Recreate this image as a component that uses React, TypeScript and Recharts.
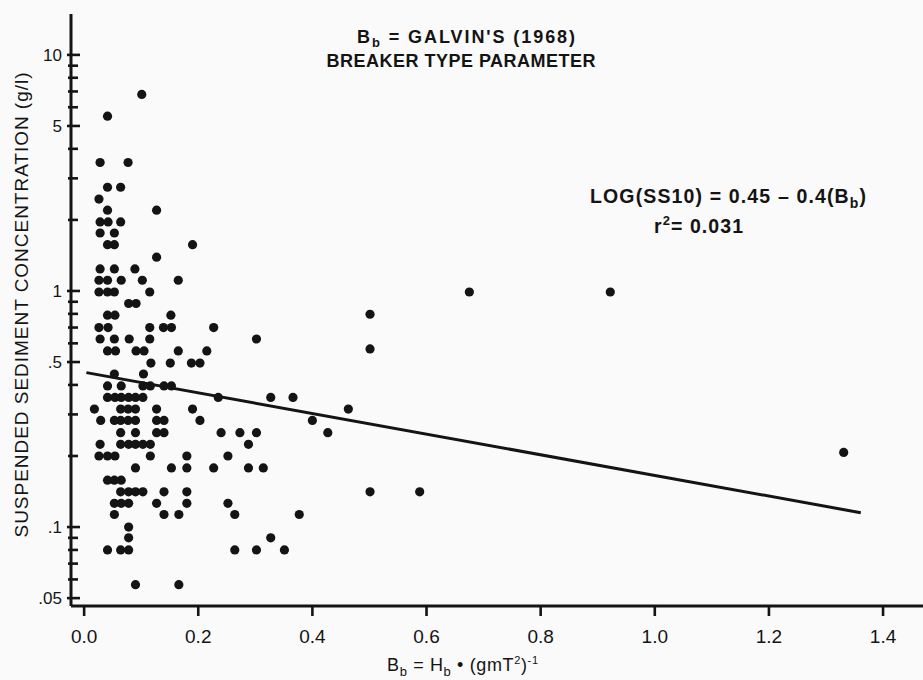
import { ScatterChart, Scatter, XAxis, YAxis } from "recharts";

const INK = "#141414";
const FONT = "'Liberation Sans', Arial, sans-serif";

// concentration levels (g/l), one row of dots per level
const levels = [
  6.8, 5.5, 3.5, 2.75, 2.45, 2.2, 1.96, 1.76, 1.57, 1.39, 1.24, 1.11, 0.99,
  0.885, 0.797, 0.79, 0.7, 0.626, 0.568, 0.557, 0.495, 0.445, 0.396, 0.354,
  0.316, 0.283, 0.251, 0.224, 0.207, 0.2, 0.178, 0.158, 0.141, 0.126, 0.113,
  0.1, 0.09, 0.08, 0.057,
];

// breaker type parameter values of the dots on each level
const bByLevel = [
  [0.101],
  [0.041],
  [0.028, 0.077],
  [0.041, 0.064],
  [0.026],
  [0.041, 0.127],
  [0.028, 0.042, 0.064],
  [0.028, 0.053],
  [0.041, 0.053, 0.19],
  [0.127],
  [0.028, 0.053, 0.089],
  [0.026, 0.041, 0.065, 0.102, 0.165],
  [0.026, 0.041, 0.053, 0.115, 0.675, 0.922],
  [0.078, 0.091],
  [0.501],
  [0.041, 0.054, 0.152],
  [0.026, 0.042, 0.115, 0.139, 0.153, 0.227],
  [0.028, 0.053, 0.079, 0.115, 0.302],
  [0.501],
  [0.041, 0.055, 0.091, 0.105, 0.165, 0.215],
  [0.117, 0.151, 0.188, 0.203],
  [0.053, 0.104],
  [0.041, 0.065, 0.103, 0.116, 0.14, 0.153],
  [0.041, 0.054, 0.065, 0.078, 0.09, 0.103, 0.235, 0.327, 0.366],
  [0.018, 0.064, 0.077, 0.09, 0.127, 0.19, 0.463],
  [0.029, 0.053, 0.064, 0.077, 0.09, 0.127, 0.14, 0.203, 0.4],
  [0.064, 0.09, 0.127, 0.14, 0.24, 0.273, 0.302, 0.427],
  [0.028, 0.064, 0.078, 0.09, 0.103, 0.116, 0.288],
  [1.331],
  [0.026, 0.041, 0.054, 0.116, 0.18, 0.252],
  [0.09, 0.153, 0.18, 0.227, 0.288, 0.314],
  [0.041, 0.053, 0.065],
  [0.064, 0.078, 0.09, 0.103, 0.14, 0.18, 0.501, 0.588],
  [0.053, 0.065, 0.078, 0.127, 0.18, 0.252],
  [0.053, 0.14, 0.166, 0.264, 0.377],
  [0.078],
  [0.078, 0.327],
  [0.041, 0.064, 0.078, 0.264, 0.302, 0.351],
  [0.09, 0.166],
];

// regression line end points
const fitB = [0.004, 1.361];
const fitSS = [0.451, 0.115];

const xTicks = [0, 0.2, 0.4, 0.6, 0.8, 1.0, 1.2, 1.4];
const xTickLabels = ["0.0", "0.2", "0.4", "0.6", "0.8", "1.0", "1.2", "1.4"];
const yMajorTicks = [0.05, 0.1, 0.5, 1, 5, 10];
const yTickLabels = [".05", ".1", ".5", "1", "5", "10"];
const yMinorTicks = [
  0.06, 0.07, 0.08, 0.09, 0.2, 0.3, 0.4, 0.6, 0.7, 0.8, 0.9, 2, 3, 4, 6, 7, 8, 9,
];

const points = levels.flatMap((ss, i) => bByLevel[i].map((b) => ({ b, ss })));
const fitData = fitB.map((b, i) => ({ b, ss: fitSS[i] }));

const Dot = (p: any) => <circle cx={p.cx} cy={p.cy} r={4.6} fill={INK} />;

// negative tickSize puts x 9px right of the axis; the mark crosses the axis
const YTick = (props: any) => {
  const { x, y, payload } = props;
  const i = yMajorTicks.indexOf(payload.value);
  const major = i >= 0;
  return (
    <g>
      <path
        d={major ? `M${x - 13},${y}H${x}` : `M${x - 12},${y}H${x - 2}`}
        stroke={INK}
        strokeWidth={2.6}
        fill="none"
      />
      {major && (
        <text
          x={x - 18}
          y={y}
          dy="0.36em"
          textAnchor="end"
          fontSize={17}
          fill={INK}
          fontFamily={FONT}
        >
          {yTickLabels[i]}
        </text>
      )}
    </g>
  );
};

const XTick = (props: any) => {
  const { x, y, payload } = props;
  const i = xTicks.indexOf(payload.value);
  return (
    <text
      x={x}
      y={y + 27}
      textAnchor="middle"
      fontSize={19}
      fill={INK}
      fontFamily={FONT}
    >
      {xTickLabels[i]}
    </text>
  );
};

export default function App() {
  return (
    <div
      style={{
        position: "absolute",
        left: 0,
        top: 0,
        width: 923,
        height: 680,
        background: "#fafafa",
      }}
    >
      <ScatterChart
        width={923}
        height={680}
        margin={{ top: 14, right: 0, bottom: 0, left: 0 }}
      >
        <XAxis
          type="number"
          dataKey="b"
          domain={[-0.023, 1.47]}
          ticks={xTicks}
          interval={0}
          allowDataOverflow
          height={74}
          tickSize={10}
          tickMargin={0}
          axisLine={{ stroke: INK, strokeWidth: 3 }}
          tickLine={{ stroke: INK, strokeWidth: 2.6 }}
          tick={<XTick />}
        />
        <YAxis
          type="number"
          dataKey="ss"
          scale="log"
          domain={[0.0463, 14.9]}
          ticks={[...yMajorTicks, ...yMinorTicks]}
          interval={0}
          allowDataOverflow
          width={71}
          tickSize={-9}
          tickMargin={0}
          axisLine={{ stroke: INK, strokeWidth: 3 }}
          tickLine={false}
          tick={<YTick />}
        />
        <Scatter
          data={fitData}
          line={{ stroke: INK, strokeWidth: 3 }}
          shape={() => <g />}
          isAnimationActive={false}
        />
        <Scatter data={points} shape={Dot} isAnimationActive={false} />
      </ScatterChart>

      <svg
        width={923}
        height={680}
        style={{ position: "absolute", left: 0, top: 0, pointerEvents: "none" }}
        fontFamily={FONT}
        fill={INK}
      >
        <text x={357} y={43} fontSize={18} fontWeight="bold" textLength={218}>
          <tspan>B</tspan>
          <tspan dy={4} fontSize={13}>b</tspan>
          <tspan dy={-4}>{"   =  GALVIN'S (1968)"}</tspan>
        </text>
        <text
          x={461}
          y={67}
          textAnchor="middle"
          fontSize={18}
          fontWeight="bold"
          textLength={269}
        >
          BREAKER TYPE PARAMETER
        </text>

        <text x={590} y={203} fontSize={19.5} fontWeight="bold" textLength={276}>
          <tspan>{"LOG(SS10)  =  0.45  \u2013  0.4(B"}</tspan>
          <tspan dy={5} fontSize={14}>b</tspan>
          <tspan dy={-5}>)</tspan>
        </text>
        <text x={654} y={233} fontSize={19.5} fontWeight="bold" textLength={89}>
          <tspan>r</tspan>
          <tspan dy={-8} fontSize={13}>2</tspan>
          <tspan dy={8}>{"=  0.031"}</tspan>
        </text>

        <text x={387} y={671} fontSize={18} textLength={151}>
          <tspan>B</tspan>
          <tspan dy={5} fontSize={13}>b</tspan>
          <tspan dy={-5}>{" = H"}</tspan>
          <tspan dy={5} fontSize={13}>b</tspan>
          <tspan dy={-5}>{" \u2022 (gmT"}</tspan>
          <tspan dy={-7} fontSize={11}>2</tspan>
          <tspan dy={7}>)</tspan>
          <tspan dy={-7} fontSize={11}>-1</tspan>
        </text>

        <text
          transform="translate(28 305) rotate(-90)"
          textAnchor="middle"
          fontSize={19}
          textLength={465}
        >
          SUSPENDED SEDIMENT CONCENTRATION (g/l)
        </text>
      </svg>
    </div>
  );
}
